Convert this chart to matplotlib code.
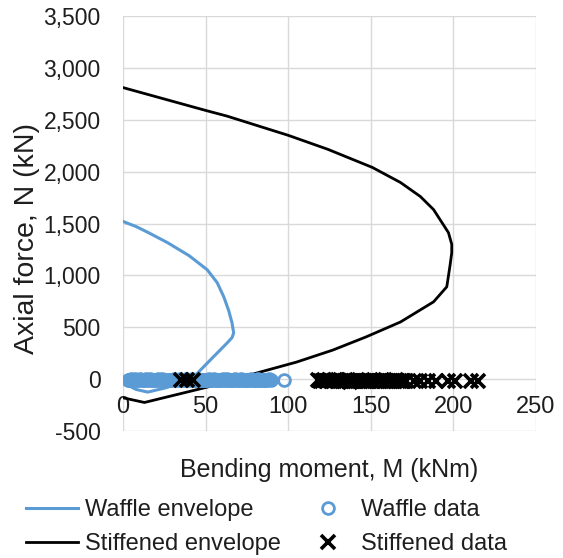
import matplotlib
matplotlib.use("Agg")
import matplotlib.pyplot as plt
from matplotlib.ticker import FuncFormatter

plt.rcParams['font.family'] = ['Liberation Sans', 'DejaVu Sans']
plt.rcParams['axes.unicode_minus'] = False

# ---- data ----
waffle_env_M = [0, 8, 15, 27, 40, 51, 57, 61, 64, 66, 67, 66, 63, 54, 44, 35, 25, 15, 8, 0]
waffle_env_N = [1520, 1470, 1415, 1315, 1190, 1054, 930, 793, 660, 541, 445, 400, 348, 203, 40, -40, -87, -125, -100, -35]

stiff_env_M = [0, 25, 50, 63, 100, 124, 151, 168, 180, 188, 197, 199, 199, 198, 196, 188, 168, 147, 127, 105, 83, 51, 13, 0]
stiff_env_N = [2810, 2700, 2590, 2535, 2350, 2215, 2040, 1895, 1760, 1634, 1412, 1300, 1218, 1100, 890, 745, 551, 406, 280, 164, 68, -77, -225, -180]

waffle_M = [3.0, 3.9, 4.8, 5.6, 6.7, 7.5, 8.4, 9.3, 10.1, 11.2,
            12.0, 12.9, 13.8, 14.6, 15.7, 16.5, 17.3, 18.4, 19.2, 20.1,
            21.1, 21.9, 22.8, 23.7, 24.5, 26.3, 27.2, 28.0, 29.1, 29.9,
            30.8, 31.7, 32.5, 33.6, 34.4, 35.3, 36.2, 37.0, 38.1, 38.9,
            40.6, 41.5, 42.4, 43.2, 44.3, 45.1, 46.0, 46.9, 47.7, 48.8,
            49.6, 50.5, 51.4, 52.2, 53.3, 54.1, 55.0, 55.9, 56.7, 57.8,
            58.6, 59.5, 60.4, 61.2, 62.3, 63.1, 64.0, 64.9, 65.7, 66.8,
            67.6, 68.5, 69.4, 70.2, 71.3, 72.1, 73.0, 73.9, 74.7, 75.8,
            76.6, 77.5, 78.4, 79.2, 80.3, 81.1, 82.0, 82.9, 83.7, 84.8,
            85.6, 86.5, 87.4, 88.2, 89.3, 97.4]
waffle_N = [-4, -7, -2, -9, -5, -3, -8, -6, -1, -7,
            -5, -9, -3, -6, -8, -2, -10, -4, -7, -5,
            -3, -8, -6, -2, -9, -5, -7, -4, -10, -6,
            -2, -7, -5, -9, -3, -8, -4, -6, -1, -8,
            -6, -3, -9, -5, -7, -2, -8, -4, -10, -5,
            -7, -4, -8, -2, -6, -9, -3, -5, -7, -4,
            -8, -5, -2, -9, -6, -3, -7, -4, -10, -6,
            -3, -8, -5, -7, -2, -9, -4, -6, -8, -5,
            -6, -2, -9, -4, -7, -5, -3, -8, -6, -4,
            -7, -5, -8, -3, -6, -5]

stiff_M = [35.2, 38.9, 42.6, 117.8, 119.1, 120.3, 121.4, 122.6, 123.5, 124.8,
           125.9, 127.1, 128.2, 129.4, 130.3, 131.6, 132.7, 133.8, 135.0, 136.1,
           137.3, 138.2, 139.5, 140.6, 141.8, 142.9, 144.1, 145.0, 146.3, 147.4,
           148.6, 149.7, 150.9, 151.8, 153.1, 154.2, 155.4, 156.5, 157.7, 158.6,
           159.9, 161.0, 162.2, 163.3, 164.5, 165.4, 166.7, 167.8, 169.0, 170.1,
           171.3, 176.2, 179.8, 184.9, 189.6, 196.8, 201.2, 210.7, 214.9]
stiff_N = [-8, -12, -6, -10, -14, -18, -12, -20, -15, -9,
           -17, -22, -13, -19, -11, -16, -21, -14, -18, -12,
           -23, -17, -15, -20, -13, -19, -16, -22, -14, -18,
           -15, -20, -17, -13, -21, -16, -19, -12, -18, -22,
           -14, -17, -20, -15, -19, -13, -21, -16, -18, -14,
           -17, -20, -16, -18, -15, -19, -16, -18, -15]

x_ticks = [0, 50, 100, 150, 200, 250]
y_ticks = [-500, 0, 500, 1000, 1500, 2000, 2500, 3000, 3500]

blue = '#5B9BD5'
txt = '#1e1e1e'
grid = '#D9D9D9'

fig = plt.figure(figsize=(5.63, 5.58), dpi=100)
ax = fig.add_axes([123 / 563, 1 - 431 / 558, 413 / 563, 415 / 558])

l1, = ax.plot(waffle_env_M, waffle_env_N, color=blue, lw=2.2, zorder=3, label='Waffle envelope')
l2, = ax.plot(stiff_env_M, stiff_env_N, color='black', lw=2.0, zorder=3, label='Stiffened envelope')
p1, = ax.plot(waffle_M, waffle_N, ls='none', marker='o', ms=8.5, mfc='none', mec=blue, mew=2.0,
              zorder=4, label='Waffle data')
p2, = ax.plot(stiff_M, stiff_N, ls='none', marker='x', ms=9.5, color='black', mew=2.6,
              zorder=5, label='Stiffened data')

ax.set_xlim(0, 250)
ax.set_ylim(-500, 3500)
ax.set_xticks(x_ticks)
ax.set_yticks(y_ticks)
ax.yaxis.set_major_formatter(FuncFormatter(lambda v, p: f"{v:,.0f}"))
ax.xaxis.set_major_formatter(FuncFormatter(lambda v, p: f"{v:,.0f}"))

ax.grid(True, color=grid, lw=1.0, zorder=0)
ax.set_axisbelow(True)
for s in ax.spines.values():
    s.set_visible(False)
ax.spines['bottom'].set_position(('data', 0))

ax.tick_params(axis='x', length=0, pad=12, labelsize=17, colors=txt)
ax.tick_params(axis='y', length=0, pad=16, labelsize=16.5, colors=txt)

ax.set_xlabel('Bending moment, M (kNm)', fontsize=18, color=txt)
ax.xaxis.label.set_va('center')
ax.xaxis.set_label_coords(0.5, (431 - 470) / 415)
ax.set_ylabel('Axial force, N (kN)', fontsize=20.5, color=txt)
ax.yaxis.label.set_va('center')
ax.yaxis.label.set_ha('center')
ax.yaxis.set_label_coords((27 - 123) / 413, (431 - 238) / 415)

leg = fig.legend(handles=[l1, l2, p1, p2], ncol=2, loc='upper left',
                 bbox_to_anchor=(26 / 563, 1 - 499 / 558), frameon=False,
                 fontsize=17, handlelength=2.2, handletextpad=0.3,
                 columnspacing=0.9, labelspacing=0.5, borderpad=0, borderaxespad=0)
for t in leg.get_texts():
    t.set_color(txt)

fig.savefig('out.png', dpi=100)
